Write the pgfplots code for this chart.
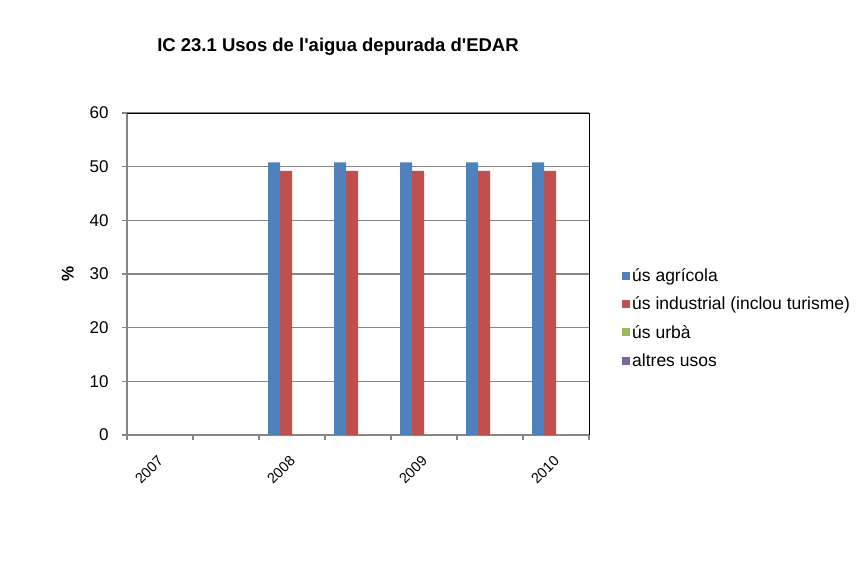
\documentclass[border=0pt]{standalone}
\usepackage{pgfplots}
\pgfplotsset{compat=1.18}
\usepackage{fontspec}
\setmainfont{Liberation Sans}
\definecolor{cagr}{HTML}{4F81BD}
\definecolor{cind}{HTML}{C0504D}
\definecolor{curb}{HTML}{9BBB59}
\definecolor{calt}{HTML}{8064A2}
\definecolor{axgray}{HTML}{868686}
\pgfplotsset{sq/.style={legend image code/.code={\fill[##1] (0pt,-4pt) rectangle (8pt,4pt);}}}

\pgfplotstableread{
x agr ind urb alt
2 50.8 49.2 0 0
3 50.8 49.2 0 0
4 50.8 49.2 0 0
5 50.8 49.2 0 0
6 50.8 49.2 0 0
}\usos

\begin{document}
\begin{tikzpicture}[x=1pt,y=1pt]
\path (0,0) rectangle (866,577);
\node[font=\fontsize{18.5}{21}\selectfont\bfseries] at (338,530) {IC 23.1 Usos de l\textquotesingle aigua depurada d\textquotesingle EDAR};
\begin{axis}[
    at={(127pt,142pt)}, anchor=south west,
    scale only axis, width=462pt, height=322pt,
    xmin=-0.5, xmax=6.5, ymin=0, ymax=60,
    ybar=0pt, bar width=12pt,
    axis x line*=bottom, axis y line*=left,
    axis line style={axgray, line width=1.3pt, -},
    tick align=outside,
    major tick length=0pt, minor tick length=5pt,
    ytick={0,10,...,60}, minor ytick={0,10,...,60},
    yticklabel style={font=\fontsize{17}{19}\selectfont, xshift=-15pt},
    xtick={0,2,4,6}, xticklabels={2007,2008,2009,2010},
    minor xtick={-0.5,0.5,...,6.5},
    xticklabel style={font=\fontsize{14.5}{16}\selectfont, xshift=3pt, yshift=-21pt, rotate=45, anchor=east},
    tick style={axgray, line width=1.3pt},
    ymajorgrids, grid style={axgray, line width=1.3pt},
    /pgf/number format/assume math mode=true,
    ylabel={\%},
    ylabel style={at={(axis description cs:-0.128,0.5)}, anchor=center, font=\fontsize{17}{19}\selectfont\bfseries},
    legend style={at={(rel axis cs:1,0.363)}, anchor=west, xshift=30pt, draw=none, fill=none,
        font=\fontsize{17.5}{20}\selectfont, row sep=10pt, legend cell align=left,
        /tikz/every even column/.append style={column sep=6pt}},
    clip=false,
]
\addplot[sq, fill=cagr, draw=none] table[x=x, y=agr] {\usos};
\addplot[sq, fill=cind, draw=none] table[x=x, y=ind] {\usos};
\addplot[sq, fill=curb, draw=none] table[x=x, y=urb] {\usos};
\addplot[sq, fill=calt, draw=none] table[x=x, y=alt] {\usos};
\legend{ús agrícola, ús industrial (inclou turisme), ús urbà, altres usos}
\draw[black, line width=1pt] (rel axis cs:0,1) -- (rel axis cs:1,1) -- (rel axis cs:1,0);
\end{axis}
\end{tikzpicture}
\end{document}
